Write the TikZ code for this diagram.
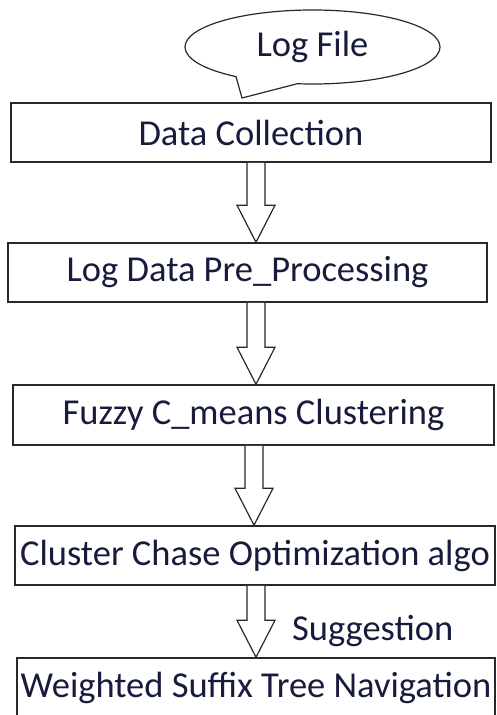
\documentclass[tikz,border=0pt]{standalone}
\usepackage{fontspec}
\setmainfont{Carlito}
\usetikzlibrary{shapes.callouts,calc}
\definecolor{txt}{RGB}{24,28,60}
\definecolor{ln}{RGB}{40,40,40}
\newcommand\blockarr[3]{%
  \draw[blockarrow] let \p1=(#1 |- #2.south), \p2=(#1 |- #3.north) in
    (\x1-9pt,\y1) -- (\x1-9pt,\y2+37pt) -- (\x1-19pt,\y2+37pt) -- (\x2,\y2)
    -- (\x1+19pt,\y2+37pt) -- (\x1+9pt,\y2+37pt) -- (\x1+9pt,\y1);}
\begin{document}
\begin{tikzpicture}[x=1pt,y=-1pt,
  box/.style={draw=ln, line width=1.5pt, minimum width=#1, minimum height=59,
    inner sep=0pt, text=txt, font=\fontsize{36.5}{42}\selectfont},
  lbl/.style={inner sep=0pt, text=txt, font=\fontsize{36.5}{42}\selectfont},
  blockarrow/.style={draw=ln, line width=1.2pt, line join=miter, fill=white}]
\useasboundingbox (0,0) rectangle (497,715);
\node[ellipse callout, draw=ln, line width=1.2pt, minimum width=255, minimum height=74,
  callout absolute pointer={(242,98)}, callout pointer arc=30, text=txt,
  font=\fontsize{36.5}{42}\selectfont] (logfile) at (312.5,47) {Log File};
\node[box=480] (dc) at (251,132.5) {Data Collection};
\node[box=479] (ld) at (247.5,272.5) {Log Data Pre\_Processing};
\node[box=481, minimum height=60] (fz) at (253.5,415) {Fuzzy C\_means Clustering};
\node[box=480] (cc) at (255,555.5) {Cluster Chase Optimization algo};
\node[box=478] (ws) at (256,687.5) {Weighted Suffix Tree Navigation};
\coordinate (ax1) at (256,0);
\coordinate (ax2) at (256,0);
\coordinate (ax3) at (254,0);
\coordinate (ax4) at (256,0);
\blockarr{ax1}{dc}{ld}
\blockarr{ax2}{ld}{fz}
\blockarr{ax3}{fz}{cc}
\blockarr{ax4}{cc}{ws}
\node[lbl, anchor=west] (sug) at (292,631) {Suggestion};
\end{tikzpicture}
\end{document}
